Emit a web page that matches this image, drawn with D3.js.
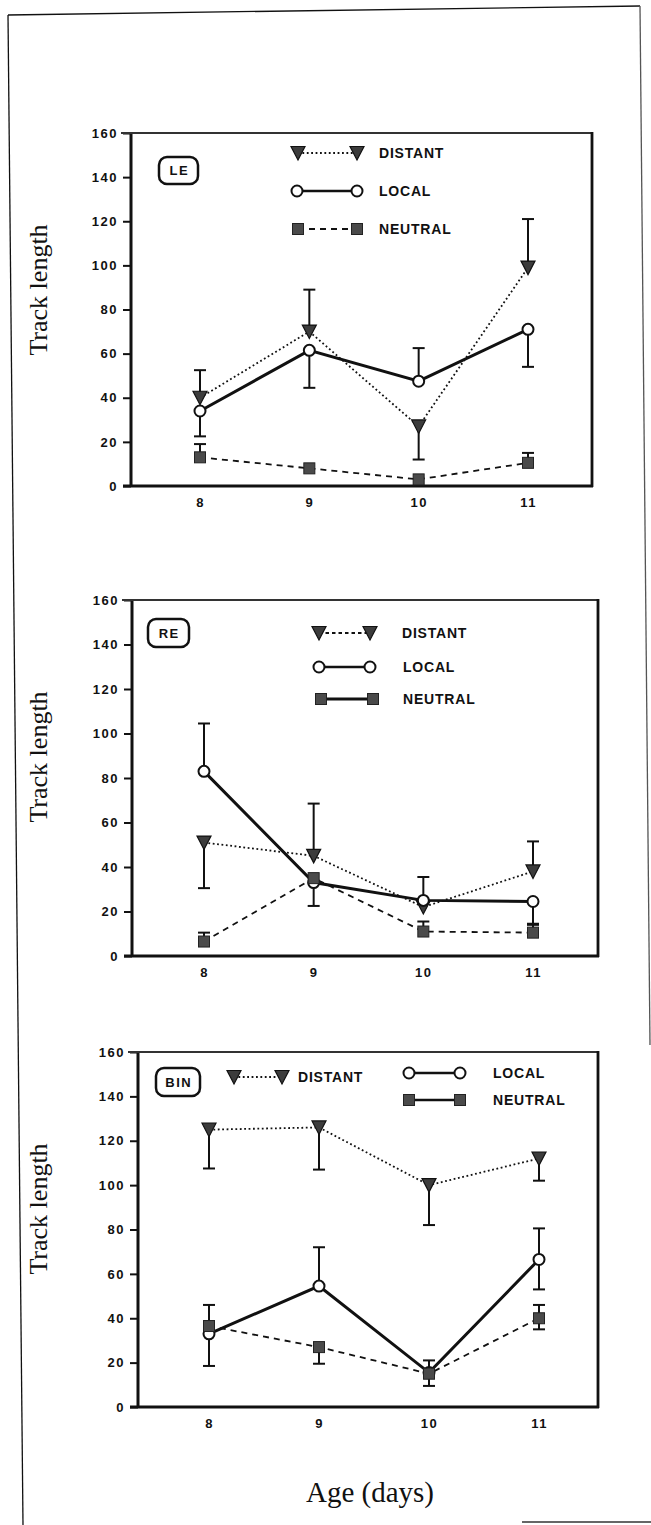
<!DOCTYPE html>
<html>
<head>
<meta charset="utf-8">
<script src="https://cdn.jsdelivr.net/npm/d3@7/dist/d3.min.js"></script>
<style>
  html, body { margin:0; padding:0; background:#fff; }
  svg { display:block; }
  .tick-lab { font-family:'Liberation Sans', Arial, sans-serif; font-weight:bold; font-size:13px; letter-spacing:1.5px; fill:#111; }
  .leg-lab { font-family:'Liberation Sans', Arial, sans-serif; font-weight:bold; font-size:14px; letter-spacing:0.8px; fill:#111; }
  .serif { font-family:'Liberation Serif', 'Times New Roman', serif; fill:#111; }
</style>
</head>
<body>
<svg id="chart" width="651" height="1525"></svg>
<script>
'use strict';
// ages (days) on the x axis
const ages = [8, 9, 10, 11];
const yTicks = [0, 20, 40, 60, 80, 100, 120, 140, 160];
const panelNames = ['LE', 'RE', 'BIN'];
const seriesNames = ['DISTANT', 'LOCAL', 'NEUTRAL'];

// means per panel, order = ages
const distant = [[40, 70, 27, 99], [51, 45, 22, 38], [125, 126, 100, 112]];
const local   = [[34, 61.5, 47.5, 71], [83, 33, 25, 24.5], [33, 54.5, 15.5, 66.5]];
const neutral = [[13, 8, 3, 10.5], [6.5, 35, 11, 10.5], [36.5, 27, 15, 40]];

// error bar ends [low, high] (null = not drawn)
const distantErr = [
  [[null, 52.5], [null, 89], [12, null], [null, 121]],
  [[30.5, null], [null, 68.5], [null, null], [null, 51.5]],
  [[107.5, null], [107, null], [82, null], [102, null]]
];
const localErr = [
  [[22.5, null], [44.5, null], [null, 62.5], [54, null]],
  [[null, 104.5], [22.5, null], [null, 35.5], [14, null]],
  [[18.5, null], [null, 72], [9.5, null], [53, 80.5]]
];
const neutralErr = [
  [[null, 19], [null, null], [null, null], [null, 15]],
  [[null, 10.5], [null, null], [null, 15.5], [null, 14.5]],
  [[null, 46], [19.5, null], [null, 21], [35, 46]]
];

// layout of each panel (pixels)
const layout = [
  { left:131, right:592, top:133, bottom:486, x0:200, x1:528, box:[159,157,39,27],
    leg:[{a:298,b:357,y:153,tx:379},{a:297,b:357,y:191,tx:379},{a:298,b:357,y:229,tx:379}],
    legStyle:['dot','solid','dash'] },
  { left:132, right:598, top:600, bottom:956, x0:204, x1:533, box:[148,619,41,28],
    leg:[{a:319,b:370,y:633,tx:402},{a:319,b:370,y:667,tx:403},{a:321,b:373,y:699,tx:403}],
    legStyle:['dash2','solid','solidThick'] },
  { left:138, right:598, top:1052, bottom:1407, x0:209, x1:539, box:[156,1068,44,28],
    leg:[{a:234,b:282,y:1077,tx:298},{a:409,b:460,y:1073,tx:493},{a:409,b:460,y:1100,tx:493}],
    legStyle:['dot','solid','solid'] }
];

const svg = d3.select('#chart');
const ink = '#111';
const fillGray = '#3c3c3c';

// page frame
const frame = svg.append('g').attr('fill','none').attr('stroke',ink);
frame.append('line').attr('x1',8).attr('y1',15).attr('x2',640).attr('y2',6).attr('stroke-width',1.3);
frame.append('line').attr('x1',8).attr('y1',15).attr('x2',23).attr('y2',1525).attr('stroke-width',1.3);
frame.append('line').attr('x1',640).attr('y1',6).attr('x2',650).attr('y2',1045).attr('stroke-width',1.3).attr('stroke','#555');
frame.append('line').attr('x1',522).attr('y1',1522).attr('x2',651).attr('y2',1522).attr('stroke-width',1.5).attr('stroke','#333');

function dashFor(style) {
  if (style === 'dot') return '1.8,2.6';
  if (style === 'dash') return '6,5';
  if (style === 'dash2') return '3.5,3';
  return null;
}
function widthFor(style) {
  if (style === 'solid') return 2.6;
  if (style === 'solidThick') return 3;
  return 1.8;
}

function marker(g, kind, x, y) {
  if (kind === 0) {
    g.append('path').attr('d', `M${x-7},${y-6.5} L${x+7},${y-6.5} L${x},${y+7} Z`)
      .attr('fill', fillGray).attr('stroke', ink).attr('stroke-width', 1.2);
  } else if (kind === 1) {
    g.append('circle').attr('cx', x).attr('cy', y).attr('r', 5.5)
      .attr('fill', '#fff').attr('stroke', ink).attr('stroke-width', 2);
  } else {
    g.append('rect').attr('x', x-5.5).attr('y', y-5.5).attr('width', 11).attr('height', 11)
      .attr('fill', '#4a4a4a').attr('stroke', '#222').attr('stroke-width', 1);
  }
}

layout.forEach((L, p) => {
  const g = svg.append('g');
  const x = d3.scaleLinear().domain([ages[0], ages[ages.length-1]]).range([L.x0, L.x1]);
  const y = d3.scaleLinear().domain([0, 160]).range([L.bottom, L.top]);

  // y axis with ticks on the left
  const yAxis = d3.axisLeft(y).tickValues(yTicks).tickSize(8).tickPadding(6).tickFormat(d3.format('d'));
  const ya = g.append('g').attr('transform', `translate(${L.left},0)`).call(yAxis);
  ya.select('.domain').remove();
  ya.selectAll('.tick line').attr('stroke', ink).attr('stroke-width', 2);
  ya.selectAll('.tick text').attr('class', 'tick-lab').attr('font-family', null).attr('font-size', null)
    .attr('fill', null).attr('x', -13);

  // x axis labels only
  const xAxis = d3.axisBottom(x).tickValues(ages).tickSize(0).tickPadding(12).tickFormat(d3.format('d'));
  const xa = g.append('g').attr('transform', `translate(0,${L.bottom})`).call(xAxis);
  xa.select('.domain').remove();
  xa.selectAll('.tick text').attr('class', 'tick-lab').attr('font-family', null).attr('font-size', null).attr('fill', null);

  // plot frame
  g.append('line').attr('x1', L.left-8).attr('x2', L.right+1).attr('y1', L.bottom).attr('y2', L.bottom)
    .attr('stroke', ink).attr('stroke-width', 3);
  g.append('line').attr('x1', L.left).attr('x2', L.left).attr('y1', L.top-1).attr('y2', L.bottom+1)
    .attr('stroke', ink).attr('stroke-width', 3);
  g.append('line').attr('x1', L.left-10).attr('x2', L.right+1).attr('y1', L.top).attr('y2', L.top)
    .attr('stroke', '#333').attr('stroke-width', 2);
  g.append('line').attr('x1', L.right).attr('x2', L.right).attr('y1', L.top-1).attr('y2', L.bottom+1)
    .attr('stroke', ink).attr('stroke-width', 2.8);

  // y title
  g.append('text').attr('class', 'serif').attr('font-size', 26)
    .attr('text-anchor', 'middle')
    .attr('transform', `translate(47,${L.top + 157}) rotate(-90)`)
    .text('Track length');

  // panel tag
  const [bx, by, bw, bh] = L.box;
  g.append('rect').attr('x', bx).attr('y', by).attr('width', bw).attr('height', bh).attr('rx', 8)
    .attr('fill', 'none').attr('stroke', ink).attr('stroke-width', 2.5);
  g.append('text').attr('class', 'tick-lab').attr('x', bx + bw/2 + 0.75).attr('y', by + bh/2)
    .attr('text-anchor', 'middle').attr('dominant-baseline', 'central').attr('letter-spacing', '1px')
    .text(panelNames[p]);

  const means = [distant[p], local[p], neutral[p]];
  const errs = [distantErr[p], localErr[p], neutralErr[p]];
  const styles = ['dot', 'solid', 'dash'];

  // error bars
  errs.forEach((eSet, s) => {
    eSet.forEach((e, i) => {
      [e[0], e[1]].forEach(end => {
        if (end === null) return;
        const cx = x(ages[i]);
        g.append('line').attr('x1', cx).attr('x2', cx).attr('y1', y(means[s][i])).attr('y2', y(end))
          .attr('stroke', ink).attr('stroke-width', 2);
        g.append('line').attr('x1', cx-6).attr('x2', cx+6).attr('y1', y(end)).attr('y2', y(end))
          .attr('stroke', ink).attr('stroke-width', 2);
      });
    });
  });

  // series lines
  const line = d3.line().x((d, i) => x(ages[i])).y(d => y(d));
  means.forEach((m, s) => {
    g.append('path').datum(m).attr('d', line).attr('fill', 'none').attr('stroke', ink)
      .attr('stroke-width', s === 1 ? 3 : 1.8)
      .attr('stroke-dasharray', dashFor(styles[s]));
  });

  // markers
  means.forEach((m, s) => {
    m.forEach((v, i) => marker(g, s, x(ages[i]), y(v)));
  });

  // legend
  L.leg.forEach((r, s) => {
    g.append('line').attr('x1', r.a).attr('x2', r.b).attr('y1', r.y).attr('y2', r.y)
      .attr('stroke', ink).attr('stroke-width', widthFor(L.legStyle[s]))
      .attr('stroke-dasharray', dashFor(L.legStyle[s]));
    marker(g, s, r.a, r.y);
    marker(g, s, r.b, r.y);
    g.append('text').attr('class', 'leg-lab').attr('x', r.tx).attr('y', r.y)
      .attr('dominant-baseline', 'central').text(seriesNames[s]);
  });
});

// x title
svg.append('text').attr('class', 'serif').attr('font-size', 29).attr('text-anchor', 'middle')
  .attr('x', 370).attr('y', 1502).text('Age (days)');
</script>
</body>
</html>
